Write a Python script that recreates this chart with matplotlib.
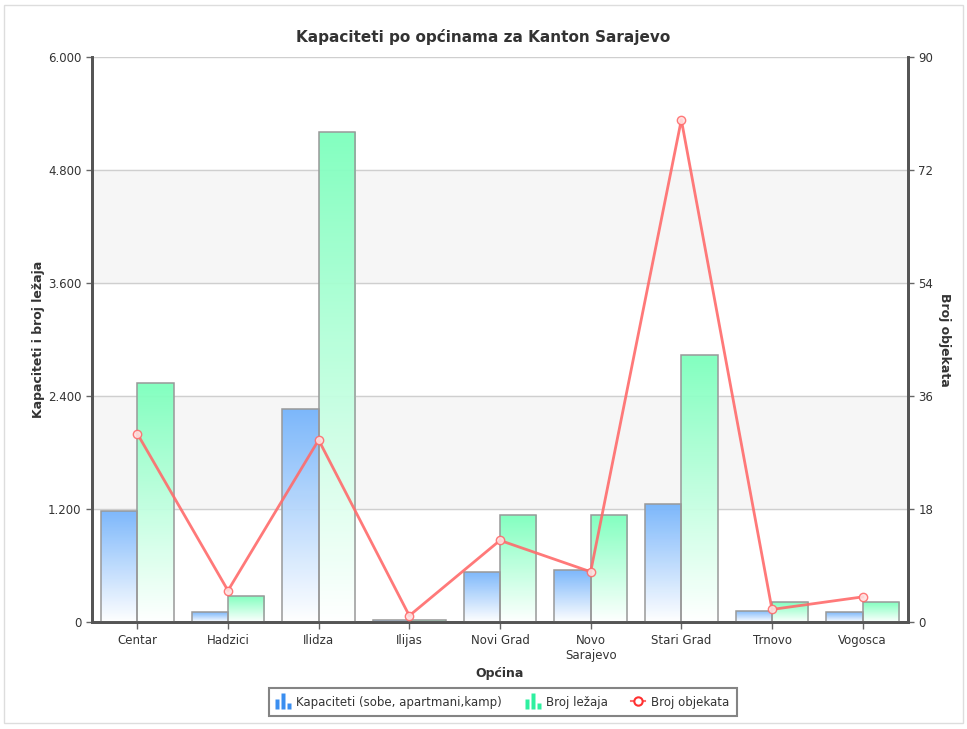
import numpy as np
import matplotlib
matplotlib.use('Agg')
import matplotlib.pyplot as plt
from matplotlib.lines import Line2D
from matplotlib.path import Path
from matplotlib.patches import Rectangle
from matplotlib.colors import LinearSegmentedColormap

opcine = ['Centar', 'Hadzici', 'Ilidza', 'Ilijas', 'Novi Grad', 'Novo\nSarajevo',
          'Stari Grad', 'Trnovo', 'Vogosca']
kapaciteti = [1180, 106, 2262, 20, 531, 552, 1253, 117, 106]
lezaji = [2538, 276, 5204, 20, 1136, 1136, 2835, 212, 212]
objekti = [30, 5, 29, 1, 13, 8, 80, 2, 4]

plt.rcParams['font.family'] = 'DejaVu Sans'

fig = plt.figure(figsize=(9.67, 7.29), dpi=100)
ax = fig.add_axes([0.0951, 0.1468, 0.8439, 0.775])
ax2 = ax.twinx()

x = np.arange(len(opcine))
w = 0.4

# alternating background bands
ax.axhspan(1200, 2400, color='#f6f6f6', zorder=0)
ax.axhspan(3600, 4800, color='#f6f6f6', zorder=0)
for yv in [1200, 2400, 3600, 4800, 6000]:
    ax.axhline(yv, color='#cfcfcf', lw=1, zorder=0.5)

blue_cm = LinearSegmentedColormap.from_list('b', ['#ffffff', '#76b4fb'])
green_cm = LinearSegmentedColormap.from_list('g', ['#ffffff', '#7dffbd'])
grad = np.linspace(0, 1, 256).reshape(-1, 1)


def grad_bars(xs, vals, cmap):
    bars = ax.bar(xs, vals, width=w, facecolor='none', edgecolor='#999999',
                  linewidth=1.1, zorder=3)
    for b in bars:
        x0, y0 = b.get_x(), b.get_y()
        im = ax.imshow(grad, cmap=cmap, origin='lower', aspect='auto',
                       extent=[x0, x0 + b.get_width(), y0, y0 + b.get_height()],
                       zorder=2, alpha=0.95)
        im.set_clip_path(b)
    return bars


grad_bars(x - w / 2, kapaciteti, blue_cm)
grad_bars(x + w / 2, lezaji, green_cm)

ax.set_xlim(-0.5, len(opcine) - 0.5)
ax.set_ylim(0, 6000)
ax.set_yticks([0, 1200, 2400, 3600, 4800, 6000])
ax.set_yticklabels(['0', '1.200', '2.400', '3.600', '4.800', '6.000'])
ax.set_xticks(x)
ax.set_xticklabels(opcine)

ax2.plot(x, objekti, color='#ff6b6b', lw=2, marker='o', ms=6,
         mfc='#ffe0e0', mec='#ff6b6b', mew=1, zorder=5, alpha=0.9)
ax2.set_ylim(0, 90)
ax2.set_yticks([0, 18, 36, 54, 72, 90])

ax2.set_zorder(ax.get_zorder() + 1)
ax2.patch.set_visible(False)

for a in (ax, ax2):
    for s in ['left', 'right', 'bottom']:
        a.spines[s].set_color('#555555')
        a.spines[s].set_linewidth(2)
    a.spines['top'].set_visible(False)
    a.tick_params(labelsize=8.5, colors='#333333', length=4, width=1)
    a.tick_params(axis='both', color='#666666')
ax.tick_params(axis='x', length=5)

ax.set_ylabel('Kapaciteti i broj ležaja', fontsize=9, fontweight='bold', color='#333333', labelpad=2)
ax2.set_ylabel('Broj objekata', fontsize=9, fontweight='bold', color='#333333',
               rotation=270, labelpad=13)
ax.set_xlabel('Općina', fontsize=9, fontweight='bold', color='#333333', labelpad=4)
fig.text(0.5, 0.949, 'Kapaciteti po općinama za Kanton Sarajevo', ha='center', va='center',
         fontsize=11, fontweight='bold', color='#333333')

# legend
bar_icon = Path([(-1, -1), (-1, 0.2), (-0.5, 0.2), (-0.5, -1), (-1, -1),
                 (-0.25, -1), (-0.25, 1), (0.25, 1), (0.25, -1), (-0.25, -1),
                 (0.5, -1), (0.5, -0.3), (1, -0.3), (1, -1), (0.5, -1)],
                [Path.MOVETO, Path.LINETO, Path.LINETO, Path.LINETO, Path.CLOSEPOLY,
                 Path.MOVETO, Path.LINETO, Path.LINETO, Path.LINETO, Path.CLOSEPOLY,
                 Path.MOVETO, Path.LINETO, Path.LINETO, Path.LINETO, Path.CLOSEPOLY])
handles = [
    Line2D([], [], ls='none', marker=bar_icon, ms=11, mfc='#3a8ef0', mec='none'),
    Line2D([], [], ls='none', marker=bar_icon, ms=11, mfc='#2ef0a0', mec='none'),
    Line2D([], [], color='#ff6b6b', lw=1.5, marker='o', ms=6, mfc='white', mec='#ff3030', mew=1.5),
]
leg = fig.legend(handles, ['Kapaciteti (sobe, apartmani,kamp)', 'Broj ležaja', 'Broj objekata'],
                 loc='center', bbox_to_anchor=(0.52, 0.037), ncol=3, fontsize=8.5,
                 frameon=True, fancybox=False, handlelength=1.2, handletextpad=0.5,
                 columnspacing=2.0, borderpad=0.6)
leg.get_frame().set_edgecolor('#666666')
leg.get_frame().set_linewidth(1.5)
for t in leg.get_texts():
    t.set_color('#333333')

fig.patches.append(Rectangle((0.004, 0.008), 0.992, 0.985, transform=fig.transFigure,
                             fill=False, edgecolor='#dddddd', lw=1))

fig.savefig('out.png', dpi=100)
